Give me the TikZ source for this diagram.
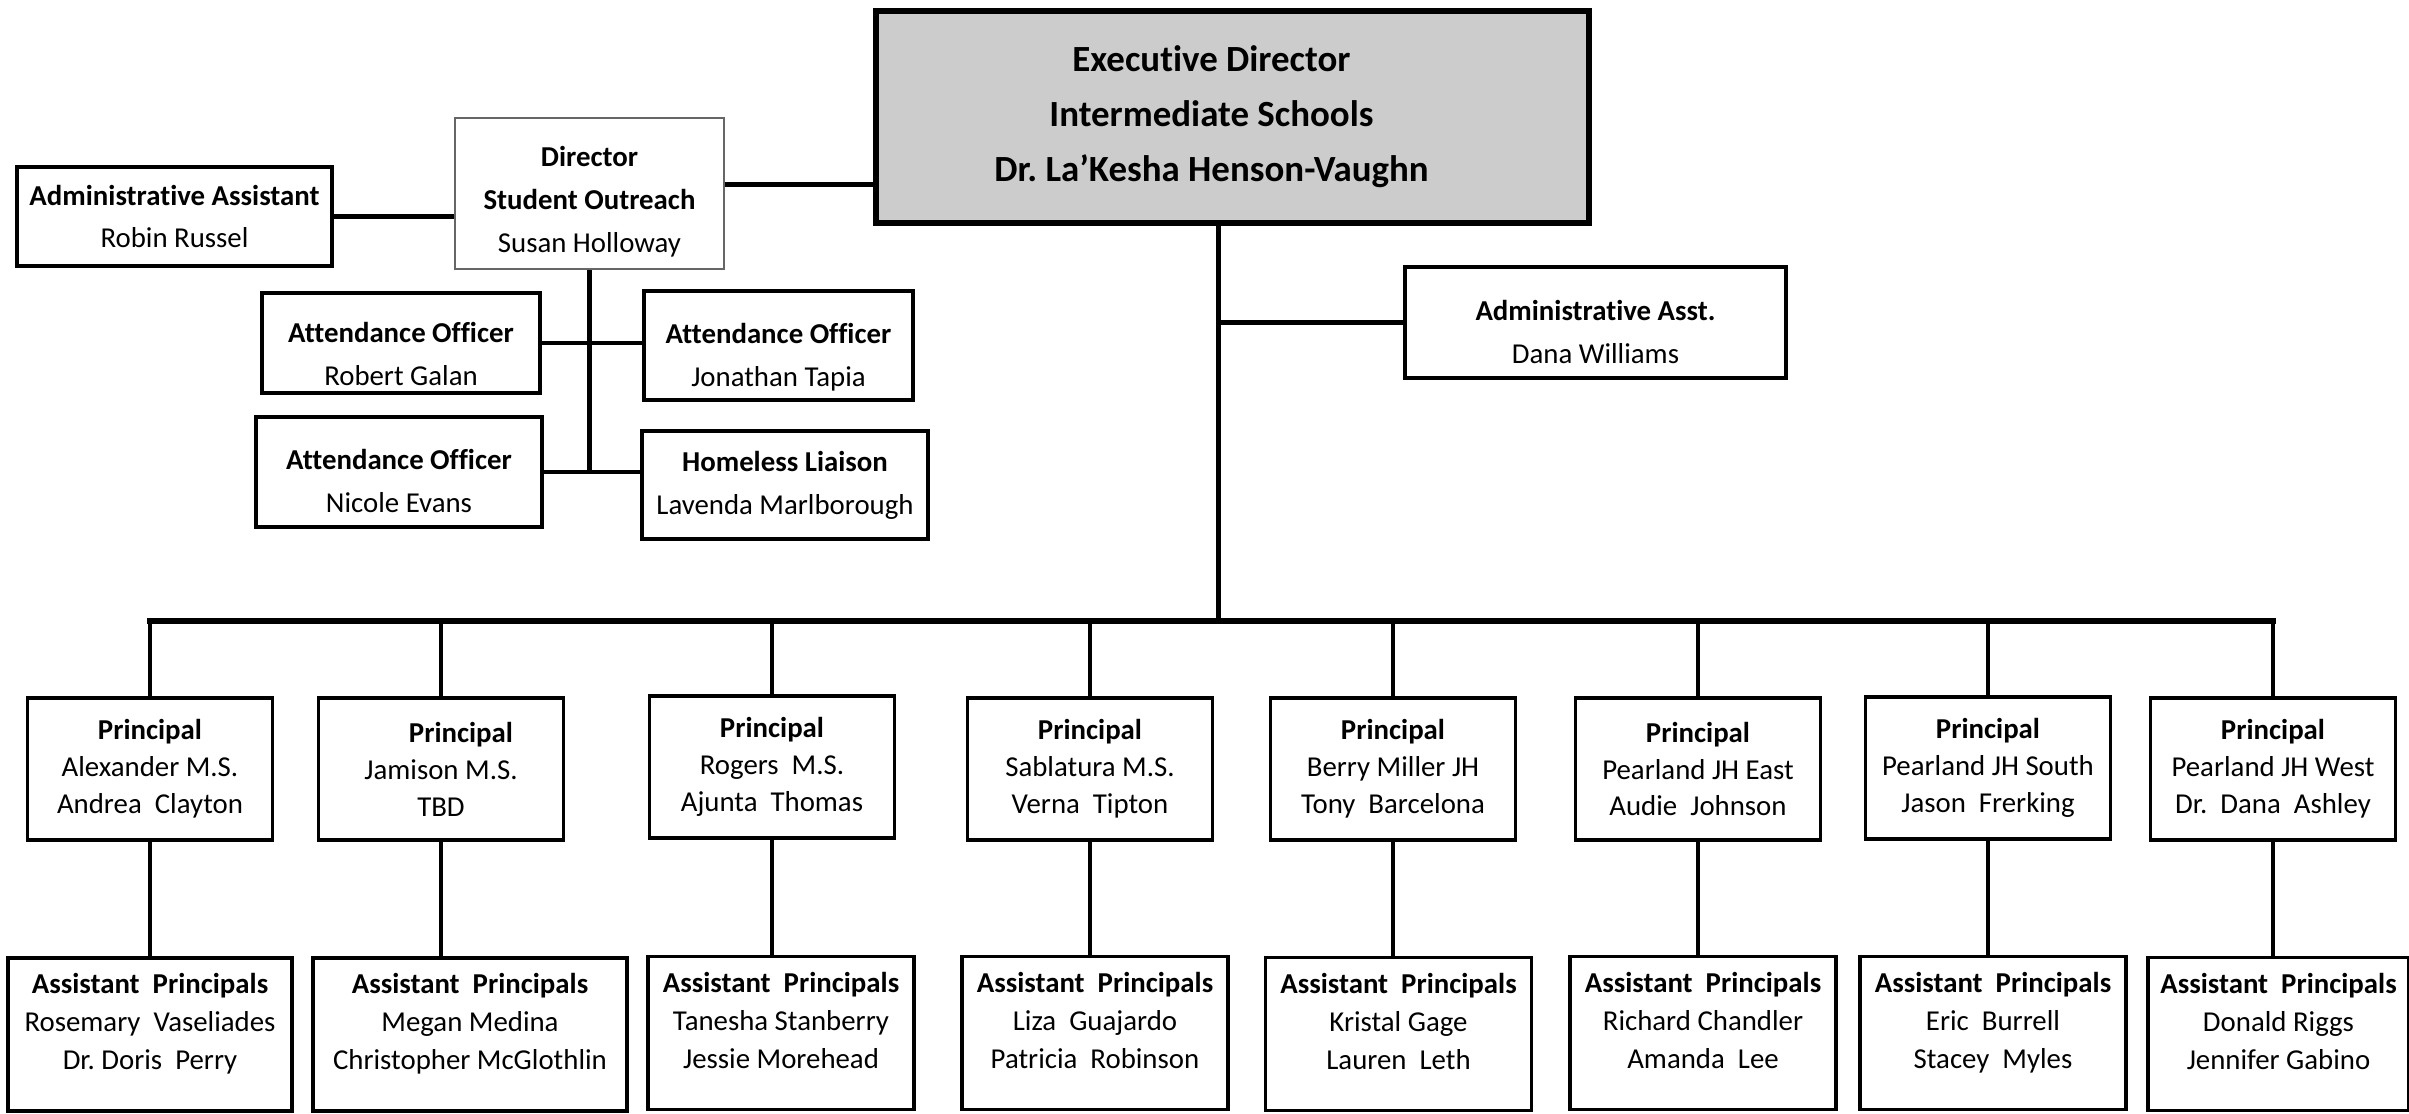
\documentclass[tikz,border=0pt]{standalone}
\usepackage{fontspec}
\setmainfont{Carlito}[Ligatures=NoCommon]
\frenchspacing
\begin{document}
\begin{tikzpicture}[
  box/.style={draw, line width=0.9pt, inner sep=0pt, align=center,
              font=\fontsize{8.2}{12.2}\selectfont},
  prin/.style={box, minimum width=2.45cm, minimum height=1.42cm,
               font=\fontsize{8.2}{10.5}\selectfont},
  asst/.style={box, minimum width=2.66cm, minimum height=1.53cm,
               font=\fontsize{8.2}{10.8}\selectfont},
  link/.style={line width=1.3pt}]

  \useasboundingbox (0,0) rectangle (24.09,11.13);

  % Executive director
  \node[box, fill=gray!40, line width=1.8pt, minimum width=7.13cm, minimum height=2.12cm,
        font=\fontsize{10.5}{15.6}\selectfont\bfseries] (exec) at (12.325,9.96)
    {Executive Director\kern0.42cm\mbox{}\\Intermediate Schools\kern0.42cm\mbox{}\\Dr. La’Kesha Henson-Vaughn\kern0.42cm\mbox{}};

  % Student outreach
  \node[box, draw=black!60, line width=0.5pt, minimum width=2.69cm, minimum height=1.51cm]
    (dir) at (5.895,9.195)
    {\strut\\[-0.36cm]\textbf{Director}\\\textbf{Student Outreach}\\Susan Holloway};
  \node[box, minimum width=3.15cm, minimum height=0.99cm] (adm) at (1.745,8.965)
    {\textbf{Administrative Assistant}\\Robin Russel};
  \node[box, minimum width=2.78cm, minimum height=1.00cm] (ao1) at (4.01,7.70)
    {\strut\\[-0.3cm]\textbf{Attendance Officer}\\Robert Galan};
  \node[box, minimum width=2.69cm, minimum height=1.09cm] (ao2) at (7.785,7.675)
    {\strut\\[-0.3cm]\textbf{Attendance Officer}\\Jonathan Tapia};
  \node[box, minimum width=2.86cm, minimum height=1.10cm] (ao3) at (3.99,6.41)
    {\strut\\[-0.35cm]\textbf{Attendance Officer}\\Nicole Evans};
  \node[box, minimum width=2.86cm, minimum height=1.08cm] (hl) at (7.85,6.28)
    {\textbf{Homeless Liaison}\\Lavenda Marlborough};

  % Assistant of the director
  \node[box, minimum width=3.81cm, minimum height=1.11cm] (aa) at (15.955,7.905)
    {\strut\\[-0.33cm]\textbf{Administrative Asst.}\\Dana Williams};

  % Principals
  \node[prin] (p1) at (1.50,3.44) {\textbf{Principal}\\Alexander M.S.\\Andrea~ Clayton};
  \node[prin] (p2) at (4.41,3.44) {\hspace*{0.4cm}\textbf{Principal}\\Jamison M.S.\\TBD};
  \node[prin] (p3) at (7.72,3.46) {\textbf{Principal}\\Rogers~ M.S.\\Ajunta~ Thomas};
  \node[prin] (p4) at (10.90,3.44) {\textbf{Principal}\\Sablatura M.S.\\Verna~ Tipton};
  \node[prin] (p5) at (13.93,3.44) {\textbf{Principal}\\Berry Miller JH\\Tony~ Barcelona};
  \node[prin] (p6) at (16.98,3.44) {\textbf{Principal}\\Pearland JH East\\Audie~ Johnson};
  \node[prin] (p7) at (19.88,3.45) {\textbf{Principal}\\Pearland JH South\\Jason~ Frerking};
  \node[prin] (p8) at (22.73,3.44) {\textbf{Principal}\\Pearland JH West\\Dr.~ Dana~ Ashley};

  % Assistant principals
  \node[asst, minimum width=2.84cm] (a1) at (1.50,0.785)
    {\textbf{Assistant~ Principals}\\Rosemary~ Vaseliades\\Dr. Doris~ Perry\\[-0.24cm]\strut};
  \node[asst, minimum width=3.14cm] (a2) at (4.70,0.785)
    {\textbf{Assistant~ Principals}\\Megan Medina\\Christopher McGlothlin\\[-0.24cm]\strut};
  \node[asst] (a3) at (7.81,0.80)
    {\textbf{Assistant~ Principals}\\Tanesha Stanberry\\Jessie Morehead\\[-0.24cm]\strut};
  \node[asst] (a4) at (10.95,0.80)
    {\textbf{Assistant~ Principals}\\Liza~ Guajardo\\Patricia~ Robinson\\[-0.24cm]\strut};
  \node[asst] (a5) at (13.985,0.79)
    {\textbf{Assistant~ Principals}\\Kristal Gage\\Lauren~ Leth\\[-0.24cm]\strut};
  \node[asst] (a6) at (17.03,0.80)
    {\textbf{Assistant~ Principals}\\Richard Chandler\\Amanda~ Lee\\[-0.24cm]\strut};
  \node[asst] (a7) at (19.93,0.80)
    {\textbf{Assistant~ Principals}\\Eric~ Burrell\\Stacey~ Myles\\[-0.24cm]\strut};
  \node[asst, minimum width=2.61cm] (a8) at (22.785,0.79)
    {\textbf{Assistant~ Principals}\\Donald Riggs\\Jennifer Gabino\\[-0.24cm]\strut};

  % Lines
  \coordinate (dx) at ([yshift=0.09cm]dir.east);
  \draw[link] (dx) -- (dx -| exec.west);
  \draw[link] (adm.east) -- (adm.east -| dir.west);
  \draw[link] (dir.south) -- (dir.south |- ao3.east);
  \draw[link] (ao1.east) -- (ao1.east -| ao2.west);
  \draw[link] (ao3.east) -- (ao3.east -| hl.west);

  \coordinate (top) at ([xshift=-0.14cm]exec.south);
  \coordinate (bus) at (top |- 0,4.92);
  \draw[link] (top) -- (bus);
  \draw[link] (aa.west) -- (aa.west -| top);
  \draw[link, line width=1.6pt, line cap=rect] (p1.north |- bus) -- (p8.north |- bus);

  \draw[link] (p1.north |- bus) -- (p1.north) (p1.south) -- (p1.south |- a1.north);
  \draw[link] (p2.north |- bus) -- (p2.north) (p2.south) -- (p2.south |- a2.north);
  \draw[link] (p3.north |- bus) -- (p3.north) (p3.south) -- (p3.south |- a3.north);
  \draw[link] (p4.north |- bus) -- (p4.north) (p4.south) -- (p4.south |- a4.north);
  \draw[link] (p5.north |- bus) -- (p5.north) (p5.south) -- (p5.south |- a5.north);
  \draw[link] (p6.north |- bus) -- (p6.north) (p6.south) -- (p6.south |- a6.north);
  \draw[link] (p7.north |- bus) -- (p7.north) (p7.south) -- (p7.south |- a7.north);
  \draw[link] (p8.north |- bus) -- (p8.north) (p8.south) -- (p8.south |- a8.north);
\end{tikzpicture}
\end{document}
